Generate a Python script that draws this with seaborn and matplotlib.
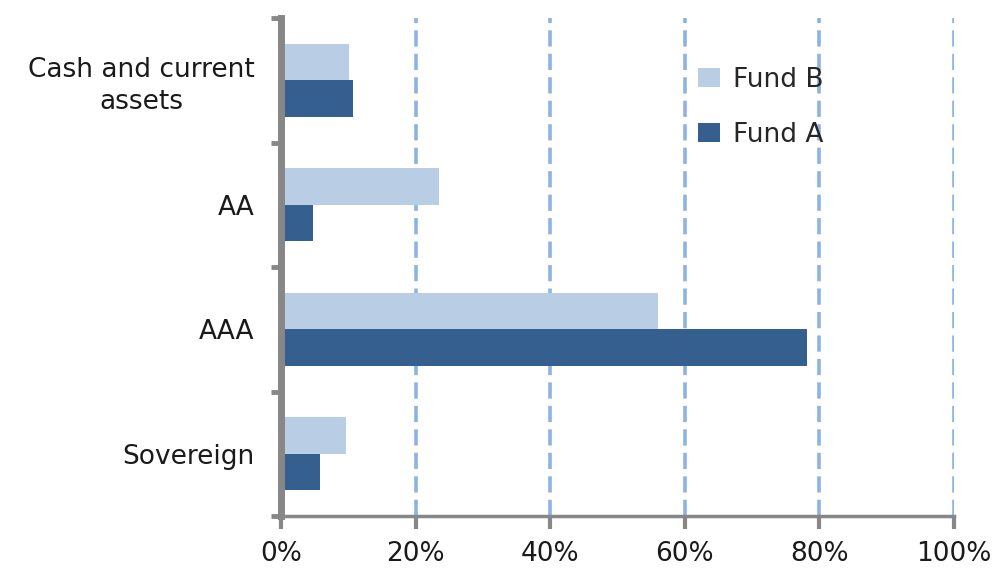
import seaborn as sns
import matplotlib.pyplot as plt
import pandas as pd

# ratings breakdown (percent)
categories = ["Cash and current\nassets", "AA", "AAA", "Sovereign"]
fund_b = [10.1, 23.5, 56.0, 9.7]
fund_a = [10.7, 4.8, 78.2, 5.8]
funds = ["Fund B", "Fund A"]
xticks = [0, 20, 40, 60, 80, 100]
xtick_labels = ["0%", "20%", "40%", "60%", "80%", "100%"]

df = pd.DataFrame({
    "category": categories * 2,
    "value": fund_b + fund_a,
    "fund": [funds[0]] * 4 + [funds[1]] * 4,
})

sns.set_style("white")
plt.rcParams["font.family"] = ["DejaVu Sans"]

fig = plt.figure(figsize=(9.98, 5.72), dpi=100)
ax = fig.add_axes([281 / 998, 56 / 572, 673 / 998, 498 / 572])

sns.barplot(data=df, y="category", x="value", hue="fund", order=categories,
            hue_order=funds, palette=["#b9cde4", "#345f8e"], width=0.59,
            orient="h", saturation=1, ax=ax, errorbar=None, linewidth=0)

ax.set_xlim(0, 100)
ax.set_ylim(3.5, -0.5)
ax.set_xticks(xticks)
ax.set_xticklabels(xtick_labels, fontsize=19, color="#1a1a1a")
ax.set_xlabel("")
ax.set_ylabel("")

# dashed vertical gridlines
for x in xticks[1:]:
    ax.axvline(x, color="#8db3e2", lw=2.6, ls=(0, (4.5, 2.0)), zorder=0)

# y ticks at band boundaries, labels centred on bands
ax.set_yticks([-0.5, 0.5, 1.5, 2.5, 3.5])
ax.set_yticklabels([])
ax.set_yticks(range(len(categories)), minor=True)
ax.set_yticklabels(categories, minor=True, fontsize=19, color="#1a1a1a",
                   ha="right", multialignment="center", linespacing=1.3)
ax.tick_params(axis="y", which="minor", length=0, pad=19)
ax.tick_params(axis="y", which="major", length=7, width=3.5, color="#878787",
               left=True, direction="out")
ax.tick_params(axis="x", length=9, width=3, color="#878787", bottom=True,
               direction="out", pad=9)

for side in ["top", "right"]:
    ax.spines[side].set_visible(False)
ax.spines["left"].set_color("#878787")
ax.spines["left"].set_linewidth(5)
ax.spines["bottom"].set_color("#878787")
ax.spines["bottom"].set_linewidth(2.5)

ax.legend(loc="upper left", bbox_to_anchor=(0.585, 0.95), frameon=False,
          fontsize=19, handlelength=0.8, handleheight=0.7,
          labelspacing=1.1, handletextpad=0.5)

fig.savefig("out.png", dpi=100)
